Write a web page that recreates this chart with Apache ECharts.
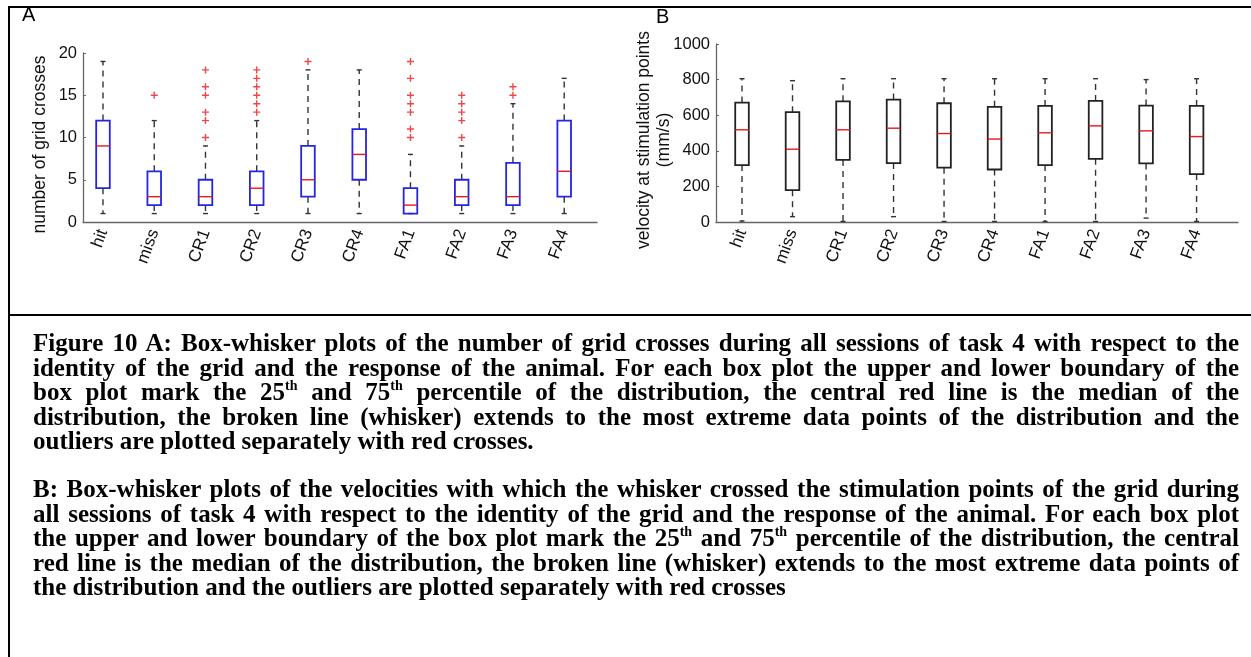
<!DOCTYPE html>
<html>
<head>
<meta charset="utf-8">
<script src="https://cdn.jsdelivr.net/npm/echarts@6/dist/echarts.min.js"></script>
<style>
  html, body { margin:0; padding:0; background:#fff; width:1251px; height:657px; overflow:hidden; }
  #chart { position:absolute; left:0; top:0; width:1251px; height:657px; }
  .frame { position:absolute; left:8px; top:6px; width:1300px; height:720px; border-left:2.5px solid #000; border-top:2px solid #000; }
  .divider { position:absolute; left:8px; top:314px; width:1300px; height:2px; background:#000; }
  .cap { position:absolute; left:33px; width:1206px; font-family:"Liberation Serif","Times New Roman",serif; font-weight:bold; font-size:25px; line-height:24px; color:#000; white-space:nowrap; text-align:justify; text-align-last:justify; }
  .cap.last { text-align-last:left; }
  .cap sup { font-size:14px; line-height:0; vertical-align:10px; }
</style>
</head>
<body>
<div class="frame"></div>
<div class="divider"></div>
<div id="chart"></div>
<div id="caption"></div>
<script>
// ---------- data ----------
const categories = ['hit','miss','CR1','CR2','CR3','CR4','FA1','FA2','FA3','FA4'];

// Panel A: number of grid crosses  [min, Q1, median, Q3, max]
const crossMin    = [1, 1, 1, 1, 1, 1, 1, 1, 1, 1];
const crossQ1     = [4, 2, 2, 2, 3, 5, 1, 2, 2, 3];
const crossMedian = [9, 3, 3, 4, 5, 8, 2, 3, 3, 6];
const crossQ3     = [12, 6, 5, 6, 9, 11, 4, 5, 7, 12];
const crossMax    = [19, 12, 9, 12, 18, 18, 8, 9, 14, 17];
// outliers: [category number (1-based), value]
const crossOutliers = [
  [2,15],
  [3,10],[3,12],[3,13],[3,15],[3,16],[3,18],
  [4,13],[4,14],[4,15],[4,16],[4,17],[4,18],
  [5,19],
  [7,10],[7,11],[7,13],[7,14],[7,15],[7,17],[7,19],
  [8,10],[8,12],[8,13],[8,14],[8,15],
  [9,15],[9,16]
];

// Panel B: velocity at stimulation points (mm/s)
const velMin    = [5, 30, 3, 30, 3, 3, 3, 3, 22, 3];
const velQ1     = [320, 179, 349, 331, 305, 295, 320, 355, 329, 269];
const velMedian = [518, 409, 518, 527, 497, 466, 501, 540, 512, 480];
const velQ3     = [671, 617, 678, 688, 667, 647, 652, 680, 654, 652];
const velMax    = [805, 794, 805, 805, 805, 805, 805, 805, 800, 805];

const crossTicks = [0, 5, 10, 15, 20];
const velTicks = [0, 200, 400, 600, 800, 1000];

// ---------- caption ----------
const captionA = [
  'Figure 10 A: Box-whisker plots of the number of grid crosses during all sessions of task 4 with respect to the',
  'identity of the grid and the response of the animal. For each box plot the upper and lower boundary of the',
  'box plot mark the 25<sup>th</sup> and 75<sup>th</sup> percentile of the distribution, the central red line is the median of the',
  'distribution, the broken line (whisker) extends to the most extreme data points of the distribution and the',
  'outliers are plotted separately with red crosses.'
];
const captionB = [
  'B: Box-whisker plots of the velocities with which the whisker crossed the stimulation points of the grid during',
  'all sessions of task 4 with respect to the identity of the grid and the response of the animal. For each box plot',
  'the upper and lower boundary of the box plot mark the 25<sup>th</sup> and 75<sup>th</sup> percentile of the distribution, the central',
  'red line is the median of the distribution, the broken line (whisker) extends to the most extreme data points of',
  'the distribution and the outliers are plotted separately with red crosses'
];
(function(){
  const cap = document.getElementById('caption');
  function add(lines, top0){
    lines.forEach((t,i)=>{
      const d = document.createElement('div');
      d.className = 'cap' + (i === lines.length-1 ? ' last' : '');
      d.style.top = (top0 + i*24.6) + 'px';
      d.innerHTML = t;
      cap.appendChild(d);
    });
  }
  add(captionA, 331);
  add(captionB, 477);
})();

// ---------- chart ----------
const font = '"Liberation Sans", Arial, sans-serif';
function boxRows(mn,q1,md,q3,mx){ return categories.map((c,i)=>[i+1, mn[i], q1[i], md[i], q3[i], mx[i]]); }

function makeRender(boxColor){
  return function(params, api){
    const x = api.value(0);
    const pMin = api.coord([x, api.value(1)]);
    const pQ1  = api.coord([x, api.value(2)]);
    const pMed = api.coord([x, api.value(3)]);
    const pQ3  = api.coord([x, api.value(4)]);
    const pMax = api.coord([x, api.value(5)]);
    const cx = pMin[0], hw = 6.8, cw = 2.5;
    const dash = { stroke:'#333', lineWidth:1.4, lineDash:[6,5] };
    const solid = { stroke:'#333', lineWidth:1.4 };
    return { type:'group', children:[
      { type:'line', shape:{x1:cx,y1:pQ3[1],x2:cx,y2:pMax[1]}, style:dash },
      { type:'line', shape:{x1:cx,y1:pQ1[1],x2:cx,y2:pMin[1]}, style:dash },
      { type:'line', shape:{x1:cx-cw,y1:pMax[1],x2:cx+cw,y2:pMax[1]}, style:solid },
      { type:'line', shape:{x1:cx-cw,y1:pMin[1],x2:cx+cw,y2:pMin[1]}, style:solid },
      { type:'rect', shape:{x:cx-hw,y:pQ3[1],width:2*hw,height:pQ1[1]-pQ3[1]}, style:{fill:'none', stroke:boxColor, lineWidth:1.8} },
      { type:'line', shape:{x1:cx-hw,y1:pMed[1],x2:cx+hw,y2:pMed[1]}, style:{stroke:'#e8191e', lineWidth:1.4} }
    ]};
  };
}

function xAxisCfg(gridIndex, min, max){
  return {
    type:'value', gridIndex, min, max,
    axisLine:{ show:true, onZero:false, lineStyle:{ color:'#666', width:1.3 } },
    axisTick:{ show:false },
    splitLine:{ show:false },
    axisLabel:{
      customValues: categories.map((c,i)=>i+1),
      formatter: v => categories[Math.round(v)-1] || '',
      rotate: 70, margin: 8, fontFamily: font, fontSize: 17, color:'#111'
    }
  };
}
function yAxisCfg(gridIndex, ticks, name, nameGap){
  return {
    type:'value', gridIndex, min: ticks[0], max: ticks[ticks.length-1], interval: ticks[1]-ticks[0],
    name, nameLocation:'middle', nameGap, nameRotate:90, nameMoveOverlap:false,
    nameTextStyle:{ fontFamily: font, fontSize:17.5, color:'#111', lineHeight:20, padding:[0,14,0,0] },
    axisLine:{ show:true, lineStyle:{ color:'#666', width:1.3 } },
    axisTick:{ show:true, inside:true, length:3, lineStyle:{ color:'#666' } },
    splitLine:{ show:false },
    axisLabel:{ fontFamily: font, fontSize:16.5, color:'#111', margin:6, formatter: v => String(v) }
  };
}

const plusPath = 'path://M2,0H3V2H5V3H3V5H2V3H0V2H2Z';

const chart = echarts.init(document.getElementById('chart'), null, { renderer:'canvas' });
chart.setOption({
  animation:false,
  backgroundColor:'transparent',
  graphic:[
    { type:'text', left:22, top:5, style:{ text:'A', font:'20px "Liberation Sans", Arial', fill:'#000' } },
    { type:'text', left:656, top:7, style:{ text:'B', font:'20px "Liberation Sans", Arial', fill:'#000' } }
  ],
  grid:[
    { left:83, top:53, width:514, height:169 },
    { left:716, top:44, width:522, height:178 }
  ],
  xAxis:[ xAxisCfg(0, 0.61, 10.64), xAxisCfg(1, 0.485, 10.82) ],
  yAxis:[
    yAxisCfg(0, crossTicks, 'number of grid crosses', 33),
    yAxisCfg(1, velTicks, 'velocity at stimulation points\n(mm/s)', 42)
  ],
  series:[
    { type:'custom', xAxisIndex:0, yAxisIndex:0, renderItem: makeRender('#2424e6'),
      encode:{ x:0, y:[1,2,3,4,5] }, data: boxRows(crossMin, crossQ1, crossMedian, crossQ3, crossMax), clip:false },
    { type:'scatter', xAxisIndex:0, yAxisIndex:0, symbol: plusPath, symbolSize:7,
      itemStyle:{ color:'#e8191e' }, data: crossOutliers },
    { type:'custom', xAxisIndex:1, yAxisIndex:1, renderItem: makeRender('#222'),
      encode:{ x:0, y:[1,2,3,4,5] }, data: boxRows(velMin, velQ1, velMedian, velQ3, velMax), clip:false }
  ]
});
</script>
</body>
</html>
